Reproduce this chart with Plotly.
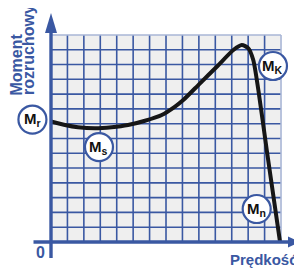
import plotly.graph_objects as go

# ---- data (grid units: 14 x 14 cells) ----
speed = [0.0, 0.85, 1.64, 2.68, 3.69, 4.69, 5.72, 6.74, 7.55, 8.05, 9.07, 10.09,
         11.10, 11.61, 12.01, 12.31, 12.62, 13.13, 13.94]
torque = [8.15, 7.91, 7.76, 7.69, 7.76, 7.91, 8.20, 8.59, 9.16, 9.60, 10.73, 11.85,
          12.98, 13.32, 13.10, 12.31, 10.28, 6.22, 0.0]
label_names = ["r", "s", "K", "n"]
label_u = [-1.13, 2.92, 13.51, 12.52]
label_v = [8.28, 6.42, 11.90, 2.23]
n_cells = 14
y_title = ["Moment", "rozruchowy"]
x_title = "Prędkość"

# ---- layout geometry (window pixels; page body adds an 8px offset) ----
W, H = 302, 270
OFF = 8
X0, SX = 51.0, 16.43   # pixel of u=0, px per unit
Y0, SY = 242.0, 14.79  # pixel of v=0, px per unit
BLUE = "#3a58a2"
LIGHT = "#a9b6d6"


def U(px):
    return (px - X0) / SX


def V(py):
    return (Y0 - py) / SY


shapes = []
shapes.append(dict(type="rect", x0=0, y0=0, x1=n_cells, y1=n_cells,
                   fillcolor="#efefef", line=dict(width=0), layer="below"))
for i in range(1, n_cells + 1):
    c = LIGHT if i == n_cells else BLUE
    shapes.append(dict(type="line", x0=i, x1=i, y0=0, y1=n_cells,
                       line=dict(color=c, width=1.6), layer="below"))
    shapes.append(dict(type="line", x0=0, x1=n_cells, y0=i, y1=i,
                       line=dict(color=c, width=1.6), layer="below"))
# axes
shapes.append(dict(type="line", x0=U(33.5), x1=U(289), y0=0, y1=0,
                   line=dict(color=BLUE, width=3.4)))
shapes.append(dict(type="path",
                   path=f"M {U(288)} {V(236.5)} L {U(300.5)} {V(242)} L {U(288)} {V(247.5)} Z",
                   fillcolor=BLUE, line=dict(width=0)))
shapes.append(dict(type="line", x0=0, x1=0, y0=V(258), y1=V(32),
                   line=dict(color=BLUE, width=3.4)))
shapes.append(dict(type="path",
                   path=f"M {U(45)} {V(33)} L {U(51)} {V(13)} L {U(57)} {V(33)} Z",
                   fillcolor=BLUE, line=dict(width=0)))

fig = go.Figure()
fig.add_trace(go.Scatter(x=speed, y=torque, mode="lines",
                         line=dict(color="#161616", width=4, shape="spline", smoothing=0.7),
                         hoverinfo="skip"))
fig.add_trace(go.Scatter(x=label_u, y=label_v, mode="markers",
                         marker=dict(size=28, color="white", line=dict(color=BLUE, width=2.2)),
                         hoverinfo="skip"))

ann = []
for name, u, v in zip(label_names, label_u, label_v):
    ann.append(dict(x=u, y=v, xref="x", yref="y", showarrow=False,
                    text=f"<b>M<sub>{name}</sub></b>",
                    font=dict(family="Liberation Sans", size=15, color="#111111"),
                    xanchor="center", yanchor="middle"))
ann.append(dict(x=U(15.5), y=V(65), xref="x", yref="y", showarrow=False,
                text=f"<b>{y_title[0]}</b>", textangle=-90,
                font=dict(family="Liberation Sans", size=16, color=BLUE)))
ann.append(dict(x=U(28), y=V(50), xref="x", yref="y", showarrow=False,
                text=f"<b>{y_title[1]}</b>", textangle=-90,
                font=dict(family="Liberation Sans", size=16, color=BLUE)))
ann.append(dict(x=U(229), y=V(259.5), xref="x", yref="y", showarrow=False,
                text=f"<b>{x_title}</b>", xanchor="left", yanchor="middle",
                borderpad=0,
                font=dict(family="Liberation Sans", size=15, color=BLUE)))
ann.append(dict(x=U(40.5), y=V(252.5), xref="x", yref="y", showarrow=False,
                text="<b>0</b>", xanchor="center", yanchor="middle",
                font=dict(family="Liberation Sans", size=16, color=BLUE)))

fig.update_layout(
    width=W - OFF, height=H - OFF, margin=dict(l=0, r=0, t=0, b=0),
    paper_bgcolor="white", plot_bgcolor="white", showlegend=False,
    xaxis=dict(range=[U(OFF), U(W)], visible=False, fixedrange=True),
    yaxis=dict(range=[V(H), V(OFF)], visible=False, fixedrange=True),
    shapes=shapes, annotations=ann,
)
fig.write_html("out.html", config={"displayModeBar": False})
